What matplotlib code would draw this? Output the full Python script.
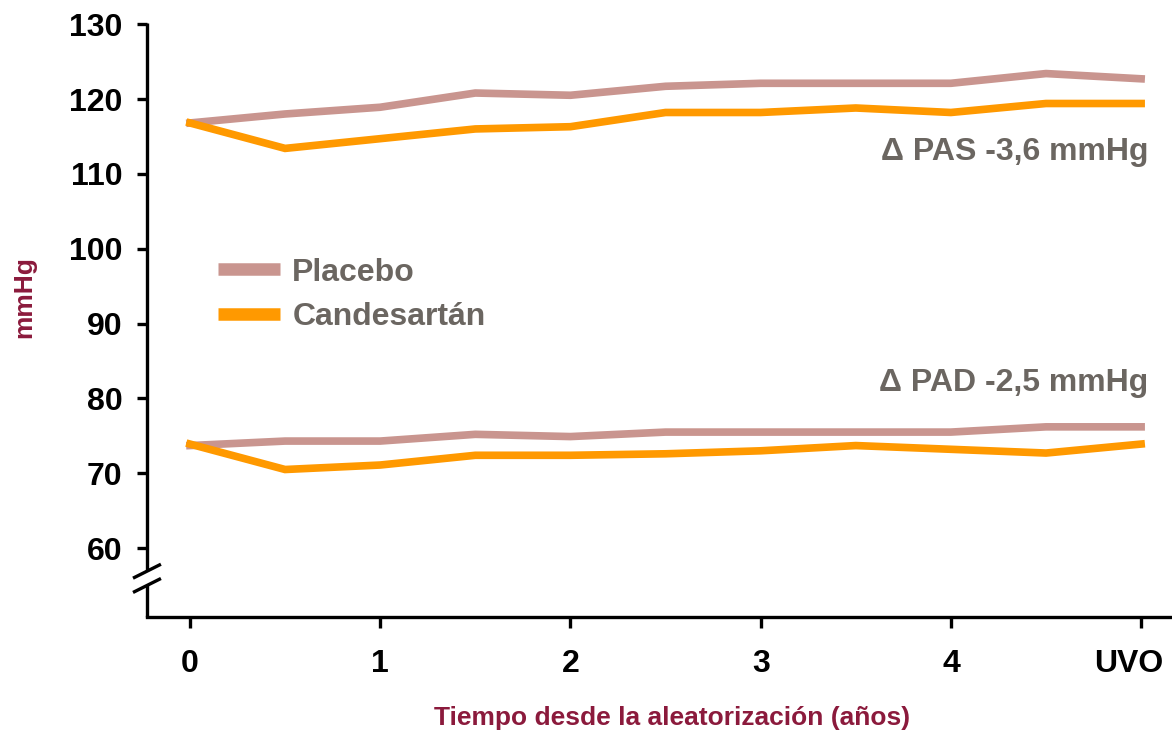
import matplotlib
matplotlib.use('Agg')
import matplotlib.pyplot as plt
import matplotlib.transforms as mtransforms

plt.rcParams['font.family'] = ['Liberation Sans', 'DejaVu Sans']

# Datos (mmHg)
tiempo     = [0, 0.5, 1, 1.5, 2, 2.5, 3, 3.5, 4, 4.5, 5]
pas_placebo = [116.8, 118.0, 118.9, 120.8, 120.5, 121.7, 122.1, 122.1, 122.1, 123.4, 122.7]
pas_cand    = [116.8, 113.4, 114.7, 116.0, 116.3, 118.2, 118.2, 118.8, 118.2, 119.4, 119.4]
pad_placebo = [73.7, 74.3, 74.3, 75.2, 74.9, 75.5, 75.5, 75.5, 75.5, 76.2, 76.2]
pad_cand    = [73.9, 70.5, 71.1, 72.4, 72.4, 72.6, 73.0, 73.7, 73.2, 72.7, 73.9]
xticks      = [0, 1, 2, 3, 4, 5]
xlabels     = ['0', '1', '2', '3', '4', 'UVO']
yticks      = [60, 70, 80, 90, 100, 110, 120, 130]

c_plac = '#C9958F'
c_cand = '#FF9900'
c_gris = '#6B6661'
c_tit  = '#8B1A3C'

fig = plt.figure(figsize=(11.72, 7.31), dpi=100)
ax = fig.add_axes([0.1254, 0.156, 0.8726, 0.813])

ax.plot(tiempo, pas_placebo, color=c_plac, lw=5.5, solid_joinstyle='miter')
ax.plot(tiempo, pas_cand, color=c_cand, lw=5.5, solid_joinstyle='miter')
ax.plot(tiempo, pad_placebo, color=c_plac, lw=5.5, solid_joinstyle='miter')
ax.plot(tiempo, pad_cand, color=c_cand, lw=5.5, solid_joinstyle='miter')

ax.set_xlim(-0.226, 5.15)
ax.set_ylim(50.8, 130.2)

# Ejes
for s in ['top', 'right', 'left']:
    ax.spines[s].set_visible(False)
ax.spines['bottom'].set_linewidth(2.4)
# eje izquierdo partido
trans = ax.transAxes
ax.plot([0, 0], [1, 0.077], transform=trans, color='black', lw=2.4,
        clip_on=False, solid_capstyle='butt')
ax.plot([0, 0], [0.053, 0], transform=trans, color='black', lw=2.4,
        clip_on=False, solid_capstyle='butt')
for yc in [0.077, 0.053]:
    ax.plot([-0.0122, 0.0122], [yc - 0.0105, yc + 0.0105], transform=trans,
            color='black', lw=2.4, clip_on=False)

ax.set_yticks(yticks)
ax.set_xticks(xticks)
ax.set_xticklabels(xlabels)
ax.tick_params(axis='y', length=7.5, width=2.4, pad=10, labelsize=23)
ax.tick_params(axis='x', length=8, width=2.4, pad=15, labelsize=23)
for lab in ax.get_xticklabels() + ax.get_yticklabels():
    lab.set_fontweight('bold')
# "UVO" algo desplazado a la izquierda como en el original
uvo = ax.get_xticklabels()[-1]
uvo.set_transform(uvo.get_transform() +
                  mtransforms.ScaledTranslation(-12 / 100, 0, fig.dpi_scale_trans))

ax.set_xlabel('Tiempo desde la aleatorización (años)', fontsize=19,
              fontweight='bold', color=c_tit)
ax.xaxis.set_label_coords(0.513, -0.15)
ax.set_ylabel('mmHg', fontsize=19, fontweight='bold', color=c_tit)
ax.yaxis.set_label_coords(-0.108, 0.539)

# Leyenda
l1, = ax.plot([], [], color=c_plac, lw=9, solid_capstyle='butt', label='Placebo')
l2, = ax.plot([], [], color=c_cand, lw=9, solid_capstyle='butt', label='Candesartán')
leg = ax.legend(handles=[l1, l2], loc='center left', bbox_to_anchor=(0.069, 0.542),
                frameon=False, handlelength=1.94, handletextpad=0.4,
                labelspacing=0.45, borderpad=0, borderaxespad=0,
                prop={'size': 23, 'weight': 'bold'})
for t in leg.get_texts():
    t.set_color(c_gris)

# Anotaciones
ax.text(5.04, 112.9, 'Δ PAS -3,6 mmHg', ha='right', va='center', fontsize=23,
        fontweight='bold', color=c_gris)
ax.text(5.04, 82.0, 'Δ PAD -2,5 mmHg', ha='right', va='center', fontsize=23,
        fontweight='bold', color=c_gris)

fig.savefig('out.png', dpi=100)
